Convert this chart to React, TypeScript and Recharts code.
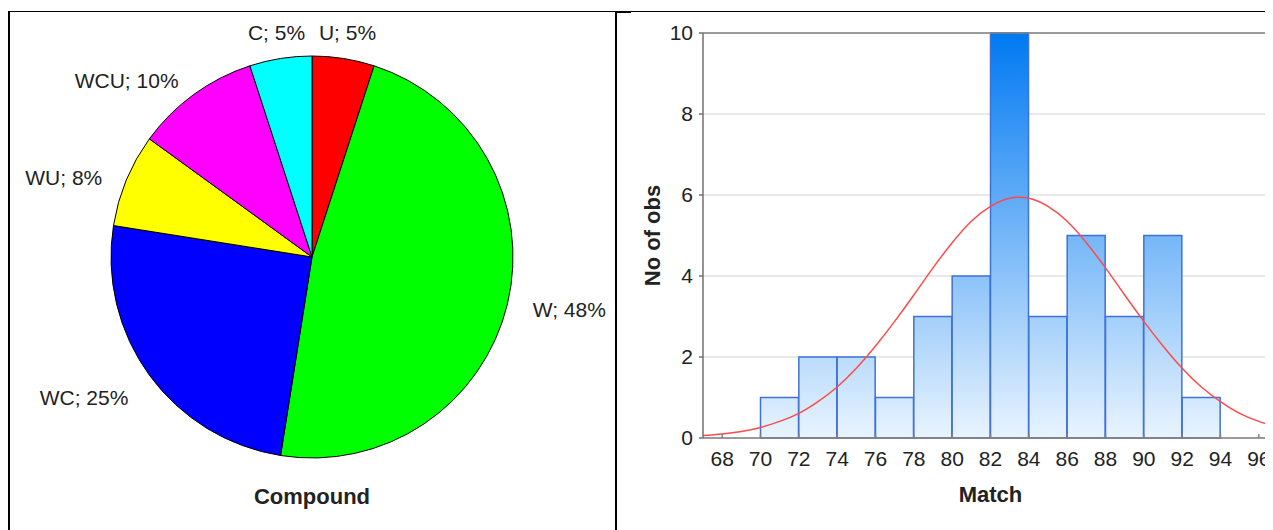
import React from 'react';
import {
  PieChart,
  Pie,
  Cell,
  ComposedChart,
  Bar,
  Line,
  XAxis,
  YAxis,
  CartesianGrid,
} from 'recharts';

// ---------- Pie data (Compound) ----------
const compoundNames = ['U', 'W', 'WC', 'WU', 'WCU', 'C'];
const compoundCounts = [2, 19, 10, 3, 4, 2];
const compoundColors = ['#ff0000', '#00ff00', '#0000ff', '#ffff00', '#ff00ff', '#00ffff'];

// ---------- Histogram data (Match) ----------
const binCenters = [71, 73, 75, 77, 79, 81, 83, 85, 87, 89, 91, 93];
const binCounts = [1, 2, 2, 1, 3, 4, 10, 3, 5, 3, 5, 1];
const xTicks = [68, 70, 72, 74, 76, 78, 80, 82, 84, 86, 88, 90, 92, 94, 96];
const yTicks = [0, 2, 4, 6, 8, 10];

// fitted normal curve
const curveX = [67, 68, 69, 70, 71, 72, 73, 74, 75, 76, 77, 78, 79, 80, 81, 82, 83, 84, 85, 86, 87, 88, 89, 90, 91, 92, 93, 94, 95, 96, 97];
const curveY = [0.06, 0.1, 0.16, 0.26, 0.41, 0.61, 0.9, 1.26, 1.72, 2.27, 2.88, 3.53, 4.2, 4.82, 5.35, 5.72, 5.92, 5.92, 5.72, 5.35, 4.82, 4.2, 3.53, 2.88, 2.27, 1.72, 1.26, 0.9, 0.61, 0.41, 0.26];

const pieData = compoundNames.map((name, i) => ({ name, value: compoundCounts[i] }));
const pieTotal = compoundCounts.reduce((a, b) => a + b, 0);
const histData = binCenters.map((x, i) => ({ x, count: binCounts[i] }));
const curveData = curveX.map((x, i) => ({ x, y: curveY[i] }));

const FONT = '"Liberation Sans", Arial, Helvetica, sans-serif';
const RAD = Math.PI / 180;

const renderPieLabel = (p: any) => {
  const { cx, cy, midAngle, outerRadius, name, value } = p;
  const r = outerRadius + 26;
  const c = Math.cos(-midAngle * RAD);
  const s = Math.sin(-midAngle * RAD);
  const x = cx + r * c;
  const y = cy + r * s + (c < -0.3 ? 7 : 0);
  const anchor = Math.abs(c) < 0.3 ? 'middle' : c > 0 ? 'start' : 'end';
  const pct = Math.round((value * 100) / pieTotal);
  return (
    <text
      x={x}
      y={y}
      textAnchor={anchor}
      dominantBaseline="central"
      fill="#222"
      fontSize={21}
      fontFamily={FONT}
    >
      {`${name}; ${pct}%`}
    </text>
  );
};

const tickStyle = { fill: '#222', fontSize: 21, fontFamily: FONT };

export default function App() {
  return (
    <div style={{ position: 'relative', width: 1265, height: 522, overflow: 'hidden', background: '#fff' }}>
      {/* table-cell borders */}
      <div style={{ position: 'absolute', left: 0, top: 3, width: 1265, height: 1, background: '#000' }} />
      <div style={{ position: 'absolute', left: 0, top: 3, width: 2, height: 519, background: '#000' }} />
      <div style={{ position: 'absolute', left: 607, top: 3, width: 2, height: 519, background: '#000' }} />
      <div style={{ position: 'absolute', left: 607, top: 3, width: 16, height: 2, background: '#000' }} />

      {/* Left: pie */}
      <div style={{ position: 'absolute', left: 0, top: 0 }}>
        <PieChart width={607} height={522} margin={{ top: 0, right: 0, bottom: 0, left: 0 }}>
          <Pie
            data={pieData}
            dataKey="value"
            nameKey="name"
            cx={304}
            cy={249}
            outerRadius={201}
            startAngle={90}
            endAngle={-270}
            stroke="#000"
            strokeWidth={1}
            label={renderPieLabel}
            labelLine={false}
            isAnimationActive={false}
          >
            {pieData.map((d, i) => (
              <Cell key={d.name} fill={compoundColors[i]} />
            ))}
          </Pie>
        </PieChart>
      </div>
      <div
        style={{
          position: 'absolute',
          left: 0,
          top: 478,
          width: 608,
          textAlign: 'center',
          fontFamily: FONT,
          fontWeight: 'bold',
          fontSize: 22,
          lineHeight: '22px',
          color: '#222',
        }}
      >
        Compound
      </div>

      {/* Right: histogram */}
      <div style={{ position: 'absolute', left: 620, top: 0 }}>
        <ComposedChart
          width={660}
          height={522}
          data={histData}
          margin={{ top: 24, right: 10, bottom: 31, left: 0 }}
          barCategoryGap={0}
          barGap={0}
          style={{ fontFamily: FONT }}
        >
          <defs>
            <linearGradient id="histGrad" gradientUnits="userSpaceOnUse" x1="0" y1="25" x2="0" y2="430">
              <stop offset="0%" stopColor="#0079f2" />
              <stop offset="100%" stopColor="#e9f4fe" />
            </linearGradient>
          </defs>
          <CartesianGrid vertical={false} stroke="#e2e2e2" strokeWidth={1.5} />
          <XAxis
            dataKey="x"
            type="number"
            domain={[67, 97]}
            allowDataOverflow
            ticks={xTicks}
            interval={0}
            height={61}
            stroke="#808080"
            strokeWidth={1.5}
            tickSize={-4}
            tickMargin={17}
            tick={tickStyle}
            label={{
              content: (props: any) => {
                const vb = props.viewBox || {};
                return (
                  <text
                    x={vb.x + vb.width / 2}
                    y={vb.y + 56}
                    textAnchor="middle"
                    dominantBaseline="central"
                    fontFamily={FONT}
                    fontSize={22}
                    fontWeight="bold"
                    fill="#222"
                  >
                    Match
                  </text>
                );
              },
            }}
          />
          <XAxis
            xAxisId="top"
            orientation="top"
            type="number"
            domain={[67, 97]}
            allowDataOverflow
            ticks={xTicks}
            interval={0}
            height={1}
            stroke="#808080"
            strokeWidth={1.5}
            tickSize={-4}
            tick={false}
          />
          <XAxis xAxisId="curve" dataKey="x" type="number" domain={[67, 97]} allowDataOverflow hide />
          <YAxis
            type="number"
            domain={[0, 10]}
            ticks={yTicks}
            interval={0}
            width={75}
            stroke="#707070"
            strokeWidth={1.5}
            tickSize={4}
            tickMargin={6}
            tick={tickStyle}
            label={{
              content: (props: any) => {
                const vb = props.viewBox || {};
                const x = vb.x + 24;
                const y = vb.y + vb.height / 2;
                return (
                  <text
                    x={x}
                    y={y}
                    transform={`rotate(-90 ${x} ${y})`}
                    textAnchor="middle"
                    dominantBaseline="central"
                    fontFamily={FONT}
                    fontSize={22}
                    fontWeight="bold"
                    fill="#222"
                  >
                    No of obs
                  </text>
                );
              },
            }}
          />
          <Bar
            dataKey="count"
            fill="url(#histGrad)"
            stroke="#3f72d8"
            strokeWidth={1.5}
            isAnimationActive={false}
          />
          <Line
            xAxisId="curve"
            data={curveData}
            dataKey="y"
            type="natural"
            stroke="#ff4a4a"
            strokeWidth={1.5}
            dot={false}
            activeDot={false}
            isAnimationActive={false}
          />
        </ComposedChart>
      </div>
    </div>
  );
}
